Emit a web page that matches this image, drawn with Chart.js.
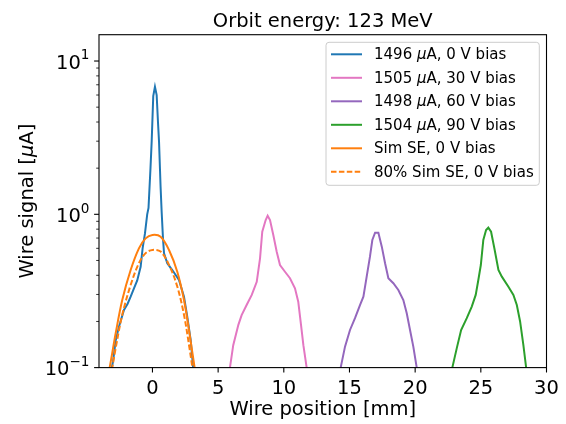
<!DOCTYPE html>
<html>
<head>
<meta charset="utf-8">
<script src="https://cdn.jsdelivr.net/npm/chart.js@4"></script>
<style>
  html, body { margin: 0; padding: 0; background: #fff; }
  canvas { display: block; }
</style>
</head>
<body>
<canvas id="wireChart" width="566" height="424"></canvas>
<script>
// values (x in mm, y in uA, log scale)
const blueX = [-3.2, -3.0, -2.8, -2.55, -2.17, -1.9, -1.66, -1.4, -1.16, -0.9, -0.75, -0.57, -0.4, -0.3, -0.15, -0.06, 0.06, 0.19, 0.32, 0.42, 0.5, 0.62, 0.7, 0.8, 0.88, 1.13, 1.51, 2.02, 2.4, 2.65, 2.91, 3.1, 3.2];
const blueY = [0.09, 0.11, 0.15, 0.185, 0.238, 0.26, 0.29, 0.33, 0.37, 0.455, 0.6, 0.75, 1.0, 1.1, 2.0, 2.98, 5.9, 6.8, 6.0, 4.0, 2.98, 1.5, 1.04, 0.7, 0.557, 0.479, 0.433, 0.373, 0.29, 0.215, 0.151, 0.1, 0.088];

const pinkX = [5.8, 5.9, 6.15, 6.54, 6.79, 7.17, 7.56, 7.94, 8.19, 8.36, 8.62, 8.77, 8.95, 9.2, 9.46, 9.71, 10.09, 10.47, 10.85, 11.1, 11.31, 11.49, 11.74, 11.8];
const pinkY = [0.09, 0.1, 0.14, 0.19, 0.22, 0.256, 0.298, 0.363, 0.516, 0.77, 0.918, 0.98, 0.918, 0.733, 0.57, 0.467, 0.422, 0.383, 0.329, 0.269, 0.19, 0.14, 0.1, 0.09];

const purpleX = [14.25, 14.33, 14.66, 15.04, 15.42, 15.8, 16.06, 16.31, 16.56, 16.74, 16.95, 17.2, 17.46, 17.71, 17.96, 18.34, 18.72, 19.1, 19.36, 19.61, 19.86, 20.12, 20.2];
const purpleY = [0.09, 0.1, 0.137, 0.176, 0.21, 0.256, 0.29, 0.392, 0.529, 0.68, 0.759, 0.759, 0.615, 0.479, 0.383, 0.355, 0.321, 0.276, 0.226, 0.176, 0.137, 0.1, 0.09];

const greenX = [22.75, 22.83, 23.17, 23.5, 23.93, 24.31, 24.61, 24.81, 25.0, 25.19, 25.4, 25.57, 25.78, 26.03, 26.34, 26.6, 27.1, 27.48, 27.74, 27.99, 28.24, 28.45, 28.52];
const greenY = [0.09, 0.1, 0.134, 0.176, 0.21, 0.25, 0.298, 0.373, 0.467, 0.68, 0.79, 0.818, 0.77, 0.6, 0.433, 0.392, 0.337, 0.298, 0.256, 0.2, 0.14, 0.1, 0.09];

const simX = [-3.45, -3.26, -2.8, -2.3, -1.66, -1.03, -0.52, 0.0, 0.62, 1.26, 1.89, 2.4, 2.78, 3.21, 3.35];
const simY = [0.085, 0.1, 0.1675, 0.276, 0.433, 0.6, 0.697, 0.733, 0.714, 0.585, 0.422, 0.276, 0.176, 0.1, 0.085];
const sim80Y = [0.068, 0.08, 0.134, 0.221, 0.346, 0.48, 0.558, 0.586, 0.571, 0.468, 0.338, 0.221, 0.141, 0.08, 0.068];

const xTicks = [0, 5, 10, 15, 20, 25, 30];
const yMajor = [0.1, 1, 10];
const yMajorExp = ['\u22121', '0', '1'];
const yMinor = [0.2, 0.3, 0.4, 0.5, 0.6, 0.7, 0.8, 0.9, 2, 3, 4, 5, 6, 7, 8, 9];

const seriesLabels = [
  ['1496 ', '\u03bc', 'A, 0 V bias'],
  ['1505 ', '\u03bc', 'A, 30 V bias'],
  ['1498 ', '\u03bc', 'A, 60 V bias'],
  ['1504 ', '\u03bc', 'A, 90 V bias'],
  ['Sim SE, 0 V bias'],
  ['80% Sim SE, 0 V bias']
];

const FONT = '"DejaVu Sans", sans-serif';

function pts(xs, ys) {
  return xs.map((x, i) => ({ x: x, y: ys[i] }));
}

function line(data, color, order, extra) {
  return Object.assign({
    data: data,
    borderColor: color,
    backgroundColor: color,
    borderWidth: 2,
    pointRadius: 0,
    tension: 0,
    fill: false,
    order: order
  }, extra || {});
}

const datasets = [
  line(pts(blueX, blueY), '#1f77b4', 6),
  line(pts(pinkX, pinkY), '#e377c2', 5),
  line(pts(purpleX, purpleY), '#9467bd', 4),
  line(pts(greenX, greenY), '#2ca02c', 3),
  line(pts(simX, simY), '#ff7f0e', 2, { tension: 0.35 }),
  line(pts(simX, sim80Y), '#ff7f0e', 1, { tension: 0.35, borderDash: [5.5, 2.4] })
];

// draws frame, ticks, labels, title and legend like the matplotlib original
const decorPlugin = {
  id: 'decor',
  beforeDraw(chart) {
    const ctx = chart.ctx;
    ctx.save();
    ctx.fillStyle = '#fff';
    ctx.fillRect(0, 0, chart.width, chart.height);
    ctx.restore();
  },
  afterDraw(chart) {
    const ctx = chart.ctx;
    const a = chart.chartArea;
    const xs = chart.scales.x;
    const ys = chart.scales.y;
    ctx.save();

    // frame
    ctx.strokeStyle = '#000';
    ctx.lineWidth = 1.1;
    ctx.strokeRect(a.left, a.top, a.right - a.left, a.bottom - a.top);

    // x ticks
    ctx.fillStyle = '#000';
    ctx.font = '19.5px ' + FONT;
    ctx.textAlign = 'center';
    ctx.textBaseline = 'alphabetic';
    xTicks.forEach(t => {
      const px = xs.getPixelForValue(t);
      ctx.beginPath();
      ctx.moveTo(px, a.bottom);
      ctx.lineTo(px, a.bottom + 4.9);
      ctx.stroke();
      ctx.fillText(String(t), px, 394.3);
    });

    // y ticks
    yMinor.forEach(t => {
      const py = ys.getPixelForValue(t);
      ctx.lineWidth = 0.8;
      ctx.beginPath();
      ctx.moveTo(a.left, py);
      ctx.lineTo(a.left - 2.8, py);
      ctx.stroke();
    });
    ctx.lineWidth = 1.1;
    ctx.textAlign = 'left';
    yMajor.forEach((t, i) => {
      const py = ys.getPixelForValue(t);
      ctx.beginPath();
      ctx.moveTo(a.left, py);
      ctx.lineTo(a.left - 4.9, py);
      ctx.stroke();
      ctx.font = '13.6px ' + FONT;
      const w2 = ctx.measureText(yMajorExp[i]).width;
      ctx.font = '19.5px ' + FONT;
      const w1 = ctx.measureText('10').width;
      const right = a.left - 9.5;
      ctx.fillText('10', right - w2 - w1, py + 7.6);
      ctx.font = '13.6px ' + FONT;
      ctx.fillText(yMajorExp[i], right - w2, py - 1.8);
    });

    // title
    ctx.font = '19.5px ' + FONT;
    ctx.textAlign = 'center';
    ctx.fillText('Orbit energy: 123 MeV', (a.left + a.right) / 2, 27.3);

    // x label
    ctx.fillText('Wire position [mm]', (a.left + a.right) / 2, 415);

    // y label, with italic mu
    ctx.save();
    ctx.translate(32.6, (a.top + a.bottom) / 2);
    ctx.rotate(-Math.PI / 2);
    const parts = [['Wire signal [', ''], ['\u03bc', 'italic '], ['A]', '']];
    let total = 0;
    parts.forEach(p => { ctx.font = p[1] + '19.5px ' + FONT; total += ctx.measureText(p[0]).width; });
    let cx = -total / 2;
    ctx.textAlign = 'left';
    parts.forEach(p => {
      ctx.font = p[1] + '19.5px ' + FONT;
      ctx.fillText(p[0], cx, 0);
      cx += ctx.measureText(p[0]).width;
    });
    ctx.restore();

    // legend
    const lx = 326, ly = 42.3, lw = 213.3, lh = 143;
    ctx.beginPath();
    ctx.roundRect(lx, ly, lw, lh, 3);
    ctx.fillStyle = 'rgba(255,255,255,0.8)';
    ctx.fill();
    ctx.strokeStyle = '#cccccc';
    ctx.lineWidth = 1;
    ctx.stroke();
    ctx.textBaseline = 'middle';
    ctx.textAlign = 'left';
    seriesLabels.forEach((lab, i) => {
      const ds = chart.data.datasets[i];
      const ry = 54.3 + i * 23.5;
      ctx.strokeStyle = ds.borderColor;
      ctx.lineWidth = 2;
      ctx.setLineDash(ds.borderDash || []);
      ctx.beginPath();
      ctx.moveTo(331, ry);
      ctx.lineTo(362, ry);
      ctx.stroke();
      ctx.setLineDash([]);
      ctx.fillStyle = '#000';
      let tx = 374;
      lab.forEach(s => {
        ctx.font = (s === '\u03bc' ? 'italic ' : '') + '15px ' + FONT;
        ctx.fillText(s, tx, ry + 1);
        tx += ctx.measureText(s).width;
      });
    });

    ctx.restore();
  }
};

new Chart(document.getElementById('wireChart'), {
  type: 'line',
  data: { datasets: datasets },
  options: {
    responsive: false,
    devicePixelRatio: 1,
    animation: false,
    layout: { padding: { left: 99, right: 19.5, top: 34.7, bottom: 56.4 } },
    scales: {
      x: { type: 'linear', min: -4.07, max: 30, display: false },
      y: { type: 'logarithmic', min: 0.1, max: 14.85, display: false }
    },
    plugins: {
      legend: { display: false },
      tooltip: { enabled: false }
    }
  },
  plugins: [decorPlugin]
});
</script>
</body>
</html>
